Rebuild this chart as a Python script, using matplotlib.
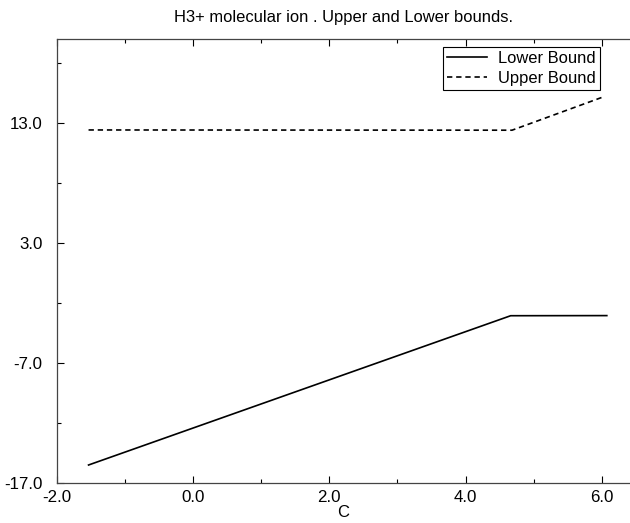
import matplotlib
matplotlib.use("Agg")
import matplotlib.pyplot as plt
from matplotlib.ticker import FixedLocator, MultipleLocator, FormatStrFormatter

# Data
lower_x = [-1.53, 4.66, 6.07]
lower_y = [-15.5, -3.06, -3.05]
upper_x = [-1.53, 4.68, 6.03]
upper_y = [12.42, 12.40, 15.2]

y_major = [-17.0, -7.0, 3.0, 13.0]
y_minor = [-12.0, -2.0, 8.0, 18.0]

title = "H3+ molecular ion . Upper and Lower bounds."
xlabel = "C"

plt.rcParams['font.family'] = ['Liberation Sans', 'DejaVu Sans']

fig = plt.figure(figsize=(6.3, 5.23), dpi=100)
ax_w = 630 - 56.5
ax = fig.add_axes([56.5 / 630, 40 / 523, ax_w / 630, 444 / 523])

ax.plot(lower_x, lower_y, color='black', lw=1.2, label='Lower Bound')
ax.plot(upper_x, upper_y, color='black', lw=1.2, ls=(0, (3.2, 2.3)), label='Upper Bound')

ax.set_xlim(-2.0, 6.41)
ax.set_ylim(-17.0, 20.0)
ax.xaxis.set_major_locator(MultipleLocator(2.0))
ax.xaxis.set_minor_locator(MultipleLocator(1.0))
ax.yaxis.set_major_locator(FixedLocator(y_major))
ax.yaxis.set_minor_locator(FixedLocator(y_minor))
ax.xaxis.set_major_formatter(FormatStrFormatter('%.1f'))
ax.yaxis.set_major_formatter(FormatStrFormatter('%.1f'))

ax.tick_params(which='both', direction='in', top=True, right=False, labelsize=12.2, width=0.8)
ax.tick_params(which='major', length=5)
ax.tick_params(which='minor', length=3)
ax.tick_params(axis='y', pad=10)
ax.tick_params(axis='x', pad=5)
ax.spines['right'].set_visible(False)
for s in ['left', 'bottom', 'top']:
    ax.spines[s].set_linewidth(0.9)
    ax.spines[s].set_color('#444444')

ax.set_title(title, fontsize=11.9, pad=12)
ax.set_xlabel(xlabel, fontsize=12, labelpad=0)

leg = ax.legend(loc='upper right', fontsize=11.9, frameon=True, fancybox=False,
                framealpha=1, edgecolor='black', borderpad=0.25, labelspacing=0.3,
                handlelength=2.4, handletextpad=0.7, borderaxespad=0)
leg.get_frame().set_linewidth(0.8)
leg.set_bbox_to_anchor((543.5 / ax_w, 1 - 8 / 444), transform=ax.transAxes)

fig.savefig("out.png", dpi=100)
